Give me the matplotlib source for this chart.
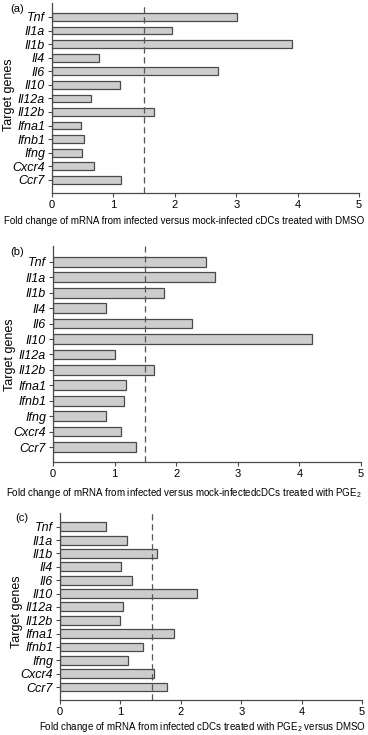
import numpy as np
import matplotlib
matplotlib.use("Agg")
import matplotlib.pyplot as plt

plt.rcParams['font.family'] = ['Liberation Sans', 'DejaVu Sans']
plt.rcParams['mathtext.fontset'] = 'custom'
plt.rcParams['mathtext.rm'] = 'Liberation Sans'
plt.rcParams['mathtext.it'] = 'Liberation Sans:italic'

genes = ["Tnf", "Il1a", "Il1b", "Il4", "Il6", "Il10", "Il12a", "Il12b",
         "Ifna1", "Ifnb1", "Ifng", "Cxcr4", "Ccr7"]

fold_dmso = [3.01, 1.96, 3.91, 0.77, 2.71, 1.11, 0.63, 1.66, 0.48, 0.52, 0.49, 0.69, 1.12]
fold_pge2 = [2.49, 2.63, 1.80, 0.86, 2.26, 4.20, 1.00, 1.64, 1.19, 1.15, 0.86, 1.11, 1.35]
fold_ratio = [0.76, 1.11, 1.60, 1.01, 1.20, 2.26, 1.04, 0.99, 1.88, 1.38, 1.12, 1.55, 1.77]

thresholds = [1.5, 1.5, 1.52]
panel_tags = ["(a)", "(b)", "(c)"]
xlabels = ["Fold change of mRNA from infected versus mock-infected cDCs treated with DMSO",
           "Fold change of mRNA from infected versus mock-infectedcDCs treated with PGE$_2$",
           "Fold change of mRNA from infected cDCs treated with PGE$_2$ versus DMSO"]

W, H = 368, 735
fig = plt.figure(figsize=(W / 100, H / 100), dpi=100)

# axes boxes in pixels: left, top, right, bottom
boxes = [(52, 3, 359, 193), (53, 246, 361, 462), (60, 513, 362, 700)]
bar_h = [0.57, 0.63, 0.66]
tag_pos = [(10, 9), (10, 252), (15, 518)]
xlab_pos = [(184, 221, 'center'), (184, 493, 'center'), (366, 727, 'right')]
ylab_pos = [(9, 95), (10, 355), (17, 612)]

series = [fold_dmso, fold_pge2, fold_ratio]
edge = "#4a4a4a"
y = np.arange(len(genes))

for i in range(3):
    l, t, r, b = boxes[i]
    ax = fig.add_axes([l / W, 1 - b / H, (r - l) / W, (b - t) / H])
    ax.barh(y, series[i], height=bar_h[i], color="#cdcdcd", edgecolor=edge, linewidth=0.9)
    ax.axvline(thresholds[i], color="#555555", lw=0.9, ls=(0, (5, 3)))
    ax.set_xlim(0, 5)
    ax.set_ylim(12.97, -1.03)
    ax.set_yticks(y)
    ax.set_yticklabels(genes, fontsize=9, style='italic')
    ax.set_xticks(range(6))
    ax.tick_params(axis='x', labelsize=8, length=3, width=0.8, color=edge, pad=2)
    ax.tick_params(axis='y', length=3, width=0.8, color=edge, pad=2)
    for s in ["top", "right"]:
        ax.spines[s].set_visible(False)
    for s in ["left", "bottom"]:
        ax.spines[s].set_color(edge)
        ax.spines[s].set_linewidth(0.9)
    fig.text(tag_pos[i][0] / W, 1 - tag_pos[i][1] / H, panel_tags[i], fontsize=8,
             va='center', ha='left')
    xl = xlab_pos[i]
    fig.text(xl[0] / W, 1 - xl[1] / H, xlabels[i], fontsize=7.0, ha=xl[2], va='center')
    fig.text(ylab_pos[i][0] / W, 1 - ylab_pos[i][1] / H, "Target genes", fontsize=9,
             rotation=90, ha='center', va='center')

fig.savefig("out.png", dpi=100)
